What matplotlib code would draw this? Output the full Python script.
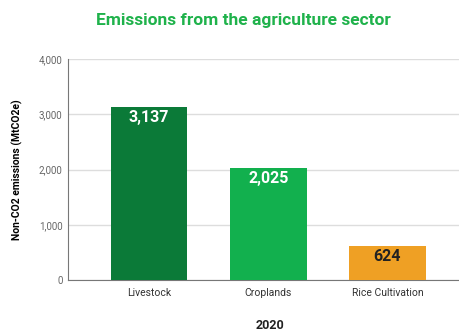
import matplotlib.pyplot as plt

categories = ["Livestock", "Croplands", "Rice Cultivation"]
values = [3137, 2025, 624]
bar_colors = ["#0b7a38", "#12b04e", "#efa024"]
label_colors = ["white", "white", "#222222"]
y_ticks = [0, 1000, 2000, 3000, 4000]

plt.rcParams['font.family'] = ['Roboto', 'DejaVu Sans']

fig = plt.figure(figsize=(4.59, 3.35), dpi=100)
ax = fig.add_axes([0.148, 0.164, 0.852, 0.66])

x = range(len(categories))
bars = ax.bar(x, values, width=0.645, color=bar_colors, zorder=3)

# value labels inside the bars
for b, v, c in zip(bars, values, label_colors):
    ax.text(b.get_x() + b.get_width() / 2, v - 60, f"{v:,}", ha="center", va="top",
            color=c, fontsize=11.5, fontweight="bold", zorder=4)

ax.set_xlim(-0.68, 2.6)
ax.set_ylim(0, 4000)
ax.set_yticks(y_ticks)
ax.set_yticklabels([f"{t:,}" for t in y_ticks], fontsize=7, color="#666666")
ax.set_xticks(list(x))
ax.set_xticklabels(categories, fontsize=7.5, color="#333333")
ax.tick_params(axis="both", length=0, pad=4)
ax.tick_params(axis="x", pad=6)

ax.grid(axis="y", color="#dddddd", linewidth=1, zorder=0)
for s in ["top", "right"]:
    ax.spines[s].set_visible(False)
ax.spines["left"].set_color("#777777")
ax.spines["bottom"].set_color("#777777")

ax.set_ylabel("Non-CO2 emissions (MtCO2e)", fontsize=7.5, fontweight="bold", labelpad=11)
fig.text(0.588, 0.027, "2020", ha="center", va="center", fontsize=9, fontweight="bold", color="#222222")
fig.text(0.53, 0.94, "Emissions from the agriculture sector", ha="center", va="center",
         fontsize=12.5, fontweight="bold", color="#1fb24b")

fig.savefig("out.png", dpi=100)
